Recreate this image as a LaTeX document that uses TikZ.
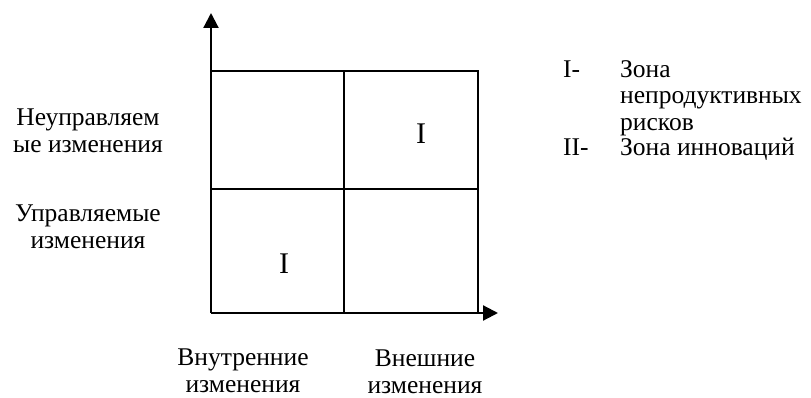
\documentclass[tikz,border=0pt]{standalone}
\usepackage{fontspec}
\setmainfont{Liberation Serif}
\usetikzlibrary{arrows.meta}
\tikzset{
  axis/.style={line width=2.2pt,-{Triangle[width=15pt,length=15pt]}},
  grid/.style={line width=1.7pt},
  lbl/.style={align=center,font=\fontsize{25.5}{26.8}\selectfont,inner sep=0pt},
  txt/.style={anchor=base west,font=\fontsize{25.5}{26}\selectfont,inner sep=0pt},
  zone/.style={font=\fontsize{30}{30}\selectfont,inner sep=0pt}
}
\begin{document}
\begin{tikzpicture}[x=1pt,y=-1pt]
\useasboundingbox (0,0) rectangle (811,398);
\coordinate (O) at (211,313);
\coordinate (Ytop) at (211,13);
\coordinate (Xend) at (498,313);
\coordinate (TL) at (211,71);
\coordinate (TR) at (478,71);
\coordinate (BR) at (478,313);
\coordinate (MT) at (344,71);
\coordinate (MB) at (344,313);
\coordinate (ML) at (211,189);
\coordinate (MR) at (478,189);
\draw[grid] (TL) -- (TR) -- (BR);
\draw[grid] (MT) -- (MB);
\draw[grid] (ML) -- (MR);
\draw[axis] (O) -- (Ytop);
\draw[axis] (O) -- (Xend);
\node[zone] (z1) at (421,134) {I};
\node[zone] (z2) at (284,264) {I};
\node[lbl] (l1) at (88,131) {Неуправляем\\ые изменения};
\node[lbl] (l2) at (88,227) {Управляемые\\изменения};
\node[lbl] (l3) at (243,371) {Внутренние\\изменения};
\node[lbl] (l4) at (425,372) {Внешние\\изменения};
\node[txt] (a1) at (563,78) {I-};
\node[txt] (a2) at (620,78) {Зона};
\node[txt] (a3) at (620,104) {непродуктивных};
\node[txt] (a4) at (620,131) {рисков};
\node[txt] (a5) at (563,156) {II-};
\node[txt] (a6) at (620,156) {Зона инноваций};
\end{tikzpicture}
\end{document}
